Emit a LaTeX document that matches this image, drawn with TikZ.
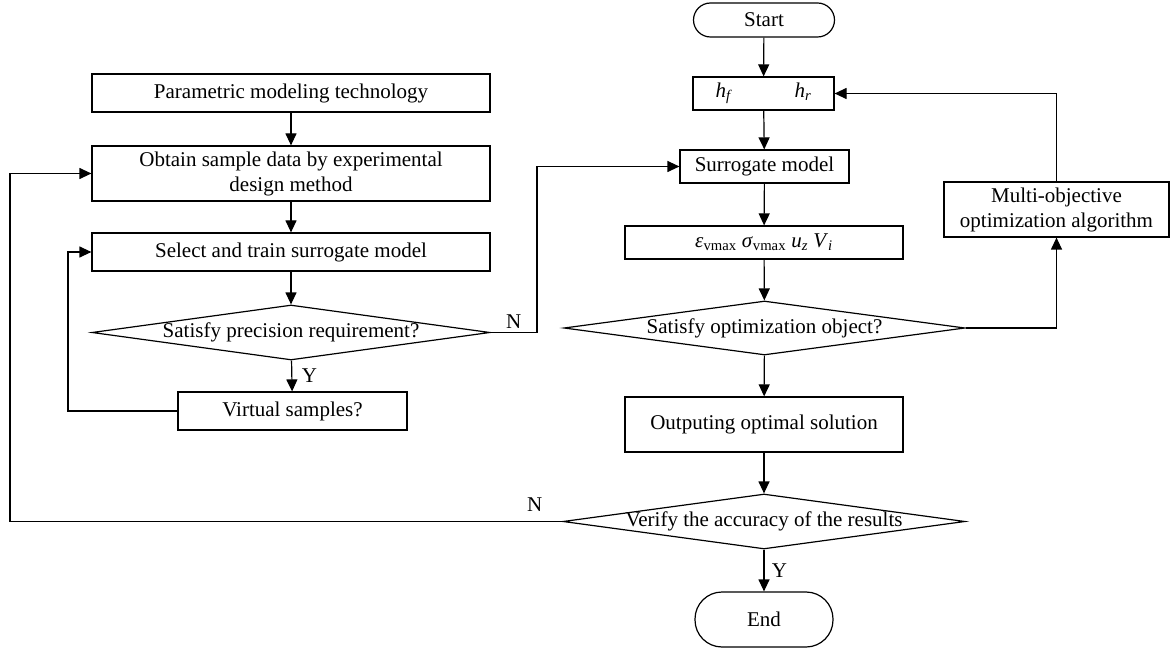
\documentclass[tikz,border=0pt]{standalone}
\usepackage{fontspec}
\setmainfont{Liberation Serif}
\usetikzlibrary{positioning}
\usetikzlibrary{shapes.geometric}
\usetikzlibrary{arrows.meta}
\tikzstyle{P} = [rectangle,draw=black,fill=white,inner sep=0pt,align=center]
\tikzstyle{Q} = [diamond,draw=black,fill=white,aspect=7.3,inner xsep=-40pt,inner ysep=0pt]
\tikzstyle{T} = [P,rounded corners=17pt]
\tikzset{>={Triangle[length=12pt,width=11pt]}}

\begin{document}
\begin{tikzpicture}[x=1pt,y=-1pt,line width=1.2pt,font=\fontsize{21}{25}\selectfont]
  \useasboundingbox (0,0) rectangle (1170,652);

  % optimization loop
  \node [T,minimum width=141,minimum height=34] (n1) at (764,20) {Start};
  \node [P,minimum width=141,minimum height=33] (n2) at (763.5,93.5) {\textit{h}\textsubscript{\textit{f}}\hspace{62pt}\textit{h}\textsubscript{\textit{r}}};
  \node [P,minimum width=169,minimum height=33] (n3) at (764.5,166.5) {Surrogate model};
  \node [P,minimum width=278,minimum height=33] (n4) at (764,242.5) {\textit{ε}\textsubscript{vmax} \textit{σ}\textsubscript{vmax} \textit{u}\textsubscript{\textit{z}} \textit{V}\textsubscript{\textit{i}}};
  \node [Q,minimum width=401,minimum height=54] (n5) at (764.5,328) {Satisfy optimization object?};
  \node [P,minimum width=278,minimum height=55] (n6) at (764,424.5) {Outputing optimal solution};
  \node [Q,minimum width=402,minimum height=55] (n7) at (764,521.5) {Verify the accuracy of the results};
  \node [T,rounded corners=27pt,minimum width=138,minimum height=55] (n8) at (764,619.5) {End};
  \node [P,minimum width=225,minimum height=55] (n9) at (1056.5,209.5) {Multi-objective\\optimization algorithm};

  % surrogate model training
  \node [P,minimum width=398,minimum height=38] (n10) at (291,93) {Parametric modeling technology};
  \node [P,minimum width=398,minimum height=55] (n11) at (291,173.5) {Obtain sample data by experimental\\design method};
  \node [P,minimum width=398,minimum height=38] (n12) at (291,252) {Select and train surrogate model};
  \node [Q,minimum width=398,minimum height=55] (n13) at (291,332.5) {Satisfy precision requirement?};
  \node [P,minimum width=229,minimum height=38] (n14) at (292.5,411) {Virtual samples?};

  \coordinate (c1) at (537,0);
  \coordinate (c2) at (68,0);
  \coordinate (c3) at (10,0);

  \draw [->] (n1) -- (n2);
  \draw [->] (n2) -- (n3);
  \draw [->] (n3) -- (n4);
  \draw [->] (n4) -- (n5);
  \draw [->] (n5) -- (n6);
  \draw [->] (n6) -- (n7);
  \draw [->] (n7) -- (n8) node [midway,right=4pt] {Y};
  \draw [->] (n5.east) -| (n9.south);
  \draw [->] (n9.north) |- (n2.east);

  \draw [->] (n10) -- (n11);
  \draw [->] (n11) -- (n12);
  \draw [->] (n12) -- (n13);
  \draw [->] (n13) -- (n14) node [midway,right=6pt] {Y};
  \draw [->] (n14.west) -- (n14.west -| c2) |- (n12.west);

  \draw [->] (n13.east) -- (n13.east -| c1) node [midway,above] {N} |- (n3.west);
  \draw [->] (n7.west) -- (n7.west -| c3) node [pos=0.05,above=6pt] {N} |- (n11.west);

\end{tikzpicture}
\end{document}
